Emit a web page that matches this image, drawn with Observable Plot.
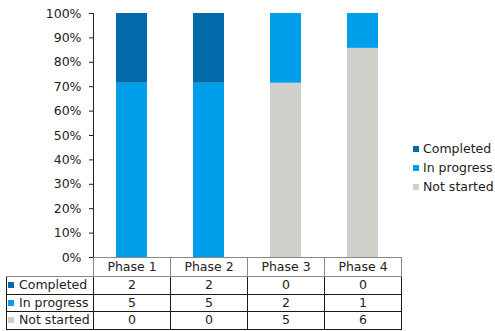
<!DOCTYPE html>
<html>
<head>
<meta charset="utf-8">
<script src="https://cdn.jsdelivr.net/npm/d3@7"></script>
<script src="https://cdn.jsdelivr.net/npm/@observablehq/plot@0.6"></script>
<style>
  html, body { margin: 0; padding: 0; background: #fff; }
  #wrap { position: relative; width: 495px; height: 331px; font-family: "DejaVu Sans", Verdana, sans-serif; font-size: 12.5px; color: #222; }
  #wrap svg { position: absolute; left: 0; top: 0; }
  table { position: absolute; left: 6px; top: 257px; border-collapse: collapse; table-layout: fixed; width: 395px; font-size: 12.5px; }
  td { padding: 0; height: 16.5px; line-height: 16.5px; text-align: center; white-space: nowrap; border: 1px solid #1a1a1a; }
  tr.head td { border: 1px solid #888; height: 18px; line-height: 18px; }
  tr.head td.blank { border-top: none; border-left: none; }
  td.lab { text-align: left; padding-left: 1px; }
  .sw { display: inline-block; width: 6px; height: 6px; margin-right: 5px; vertical-align: 1px; }
  #legend { position: absolute; left: 413px; top: 139px; }
  #legend div { height: 19px; line-height: 19px; white-space: nowrap; }
  #legend .sw { margin-right: 4px; }
</style>
</head>
<body>
<div id="wrap"></div>
<script>
const phases = ["Phase 1", "Phase 2", "Phase 3", "Phase 4"];
const series = ["Completed", "In progress", "Not started"];
const completed = [2, 2, 0, 0];
const inProgress = [5, 5, 2, 1];
const notStarted = [0, 0, 5, 6];
const colors = ["#006BA8", "#009FEC", "#D1CFCA"];
const yTicks = [0, 0.1, 0.2, 0.3, 0.4, 0.5, 0.6, 0.7, 0.8, 0.9, 1];

const values = [completed, inProgress, notStarted];
const rows = [];
// stack order: Not started bottom, In progress, Completed top
[2, 1, 0].forEach(si => phases.forEach((p, i) => rows.push({phase: p, series: series[si], value: values[si][i]})));

const chart = Plot.plot({
  width: 495,
  height: 331,
  marginLeft: 93,
  marginRight: 94,
  marginTop: 13,
  marginBottom: 74,
  style: {fontFamily: "DejaVu Sans, Verdana, sans-serif", fontSize: "12.5px", color: "#222", background: "transparent"},
  x: {domain: phases, range: [93, 401], paddingInner: 0.6, paddingOuter: 0.3, axis: null},
  y: {domain: [0, 1], ticks: yTicks, tickFormat: d3.format(".0%"), tickSize: 4, tickPadding: 8, label: null, line: true},
  color: {domain: series, range: colors},
  marks: [
    Plot.barY(rows, Plot.stackY({offset: "normalize", order: null, x: "phase", y: "value", fill: "series"}))
  ]
});

const wrap = document.getElementById("wrap");
wrap.appendChild(chart);

// data table
const table = document.createElement("table");
const colgroup = document.createElement("colgroup");
[87, 77, 77, 77, 77].forEach(w => { const c = document.createElement("col"); c.style.width = w + "px"; colgroup.appendChild(c); });
table.appendChild(colgroup);
const head = document.createElement("tr");
head.className = "head";
const blank = document.createElement("td"); blank.className = "blank"; head.appendChild(blank);
phases.forEach(p => { const td = document.createElement("td"); td.textContent = p; head.appendChild(td); });
table.appendChild(head);
series.forEach((s, si) => {
  const tr = document.createElement("tr");
  const lab = document.createElement("td"); lab.className = "lab";
  const sw = document.createElement("span"); sw.className = "sw"; sw.style.background = colors[si];
  lab.appendChild(sw); lab.appendChild(document.createTextNode(s));
  tr.appendChild(lab);
  values[si].forEach(v => { const td = document.createElement("td"); td.textContent = v; tr.appendChild(td); });
  table.appendChild(tr);
});
wrap.appendChild(table);

// legend
const legend = document.createElement("div");
legend.id = "legend";
series.forEach((s, si) => {
  const d = document.createElement("div");
  const sw = document.createElement("span"); sw.className = "sw"; sw.style.background = colors[si];
  d.appendChild(sw); d.appendChild(document.createTextNode(s));
  legend.appendChild(d);
});
wrap.appendChild(legend);
</script>
</body>
</html>
